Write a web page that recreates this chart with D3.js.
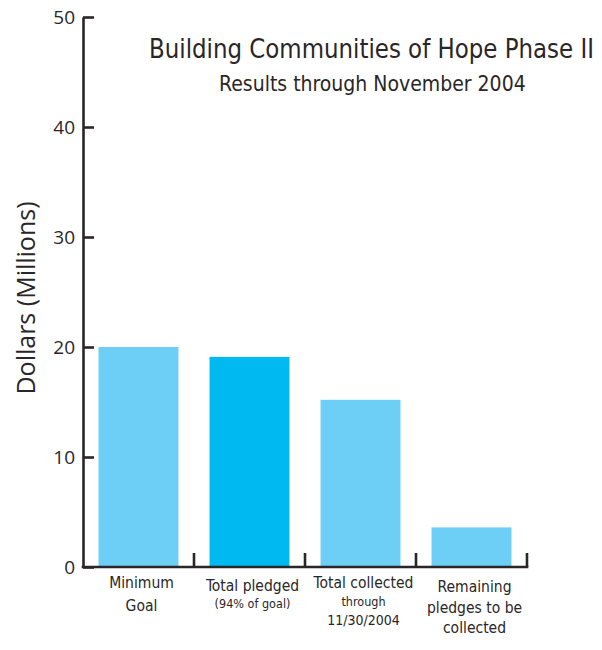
<!DOCTYPE html>
<html>
<head>
<meta charset="utf-8">
<script src="https://cdn.jsdelivr.net/npm/d3@7"></script>
<style>
  html, body { margin: 0; padding: 0; background: #fff; }
  svg { display: block; }
  .cond { font-family: "DejaVu Sans Condensed", "Roboto", sans-serif; font-stretch: condensed; }
  .hum { font-family: "Open Sans", "Noto Sans", sans-serif; }
</style>
</head>
<body>
<svg id="chart" width="602" height="650"></svg>
<script>
// Campaign results, in millions of dollars
const categories = ["Minimum Goal", "Total pledged", "Total collected", "Remaining pledges"];
const values = [20.0, 19.1, 15.2, 3.6];
const highlighted = ["Total pledged"];
const categoryLabels = [
  ["Minimum", "Goal"],
  ["Total pledged", "(94% of goal)"],
  ["Total collected", "through", "11/30/2004"],
  ["Remaining", "pledges to be", "collected"]
];
const yTicks = [0, 10, 20, 30, 40, 50];
const titleText = "Building Communities of Hope Phase II";
const subtitleText = "Results through November 2004";
const yAxisTitle = "Dollars (Millions)";

const ink = "#2a2627";
const lightBlue = "#6dcff6";
const brightBlue = "#00b9f1";

const svg = d3.select("#chart");

const y = d3.scaleLinear().domain([0, 50]).range([567, 17]);
const x = d3.scaleBand().domain(categories).range([83, 527])
  .paddingInner(0.28).paddingOuter(0.14);

// Bars
svg.append("g").selectAll("rect")
  .data(categories)
  .join("rect")
  .attr("x", d => x(d))
  .attr("width", x.bandwidth())
  .attr("y", (d, i) => y(values[i]))
  .attr("height", (d, i) => y(0) - y(values[i]))
  .attr("fill", d => highlighted.includes(d) ? brightBlue : lightBlue);

// Y axis: ticks point into the plot, labels sit on the left
const yAxis = svg.append("g")
  .attr("transform", `translate(${x.range()[0]},0)`)
  .call(d3.axisLeft(y).tickValues(yTicks).tickSizeInner(-11).tickSizeOuter(0).tickPadding(8));
yAxis.select(".domain").attr("stroke", ink).attr("stroke-width", 2.6);
yAxis.selectAll(".tick line").attr("stroke", ink).attr("stroke-width", 2.6);
yAxis.selectAll(".tick text")
  .attr("class", "hum")
  .attr("fill", ink)
  .attr("font-size", 19)
  .attr("dy", "0.36em");

// X axis baseline with dividers between categories
const step = x.step();
const dividers = categories.map((d, i) => x.range()[0] + (i + 1) * step);
const xAxis = svg.append("g");
xAxis.append("line")
  .attr("x1", x.range()[0] - 1.3).attr("x2", x.range()[1] + 1.3)
  .attr("y1", y(0)).attr("y2", y(0))
  .attr("stroke", ink).attr("stroke-width", 2.6);
xAxis.selectAll("line.div")
  .data(dividers)
  .join("line")
  .attr("class", "div")
  .attr("x1", d => d).attr("x2", d => d)
  .attr("y1", y(0)).attr("y2", y(0) - 14)
  .attr("stroke", ink).attr("stroke-width", 2.6);

// Category labels
const smallLines = new Set(["(94% of goal)", "through"]);
const lineBaselines = [
  [588, 611],
  [591, 608],
  [588, 606, 625],
  [592, 613, 633]
];
categories.forEach((c, i) => {
  const cx = x(c) + x.bandwidth() / 2 + 3;
  svg.append("g").selectAll("text")
    .data(categoryLabels[i])
    .join("text")
    .attr("class", "cond")
    .attr("x", cx)
    .attr("y", (t, j) => lineBaselines[i][j])
    .attr("text-anchor", "middle")
    .attr("font-size", t => smallLines.has(t) ? 12.5 : (t === "11/30/2004" ? 14 : 15.5))
    .attr("fill", ink)
    .text(t => t);
});

// Titles, squeezed horizontally to a target width
function fittedText(str, left, baseline, size, width) {
  const t = svg.append("text")
    .attr("class", "cond")
    .attr("font-size", size)
    .attr("fill", ink)
    .text(str);
  const natural = t.node().getComputedTextLength();
  const k = Math.min(1, width / natural);
  t.attr("transform", `translate(${left},${baseline}) scale(${k},1)`);
  return t;
}
fittedText(titleText, 149, 58, 27, 445);
fittedText(subtitleText, 219, 91, 21, 308);

// Y axis title
svg.append("text")
  .attr("class", "hum")
  .attr("transform", "translate(35,298) rotate(-90)")
  .attr("text-anchor", "middle")
  .attr("font-size", 25)
  .attr("fill", ink)
  .text(yAxisTitle);
</script>
</body>
</html>
